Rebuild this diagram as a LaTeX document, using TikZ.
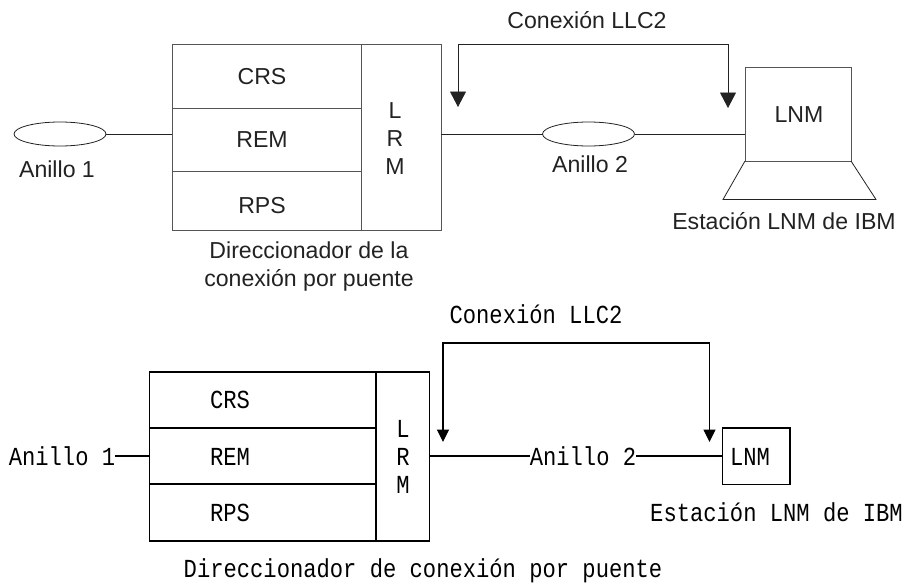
\documentclass[tikz,border=0pt]{standalone}
\usepackage{fontspec}
\setmainfont{Liberation Sans}
\newfontfamily\stationmono[FakeStretch=0.852]{Liberation Mono}
\usetikzlibrary{arrows.meta,shapes.geometric}
\definecolor{ink}{HTML}{222222}
\definecolor{upline}{HTML}{555555}
\tikzset{
  upcell/.style={draw=upline,line width=1pt,rectangle,inner sep=0pt,outer sep=0pt,anchor=north west},
  lowcell/.style={draw=black,line width=1.2pt,rectangle,inner sep=0pt,outer sep=0pt,anchor=north west},
  ring/.style={draw=ink,line width=.8pt,ellipse,inner sep=0pt,outer sep=0pt,minimum width=92pt,minimum height=24pt},
  upwire/.style={draw=ink,line width=.8pt},
  lowwire/.style={draw=black,line width=1.1pt},
  uparrow/.style={upwire,{Triangle[length=15.5pt,width=16pt]}-{Triangle[length=15.5pt,width=16pt]}},
  lowarrow/.style={lowwire,{Triangle[length=12.5pt,width=12pt]}-{Triangle[length=12.5pt,width=12pt]}},
  sanstext/.style={text=ink,inner sep=0pt,anchor=base,align=center,font=\fontsize{23.1}{27.7}\selectfont},
  monotext/.style={text=black,inner sep=0pt,anchor=base,align=center,font=\stationmono\fontsize{26}{28}\selectfont},
}
\begin{document}
\begin{tikzpicture}[x=1pt,y=-1pt]
\useasboundingbox (0,0) rectangle (905,584);
% ---------- upper diagram ----------
\node[upcell,minimum width=189pt,minimum height=64pt] (ucrs) at (172,44) {};
\node[upcell,minimum width=189pt,minimum height=63pt] (urem) at (172,108) {};
\node[upcell,minimum width=189pt,minimum height=59pt] (urps) at (172,171) {};
\node[upcell,minimum width=80pt,minimum height=186pt] (ulrm) at (361,44) {};
\node[sanstext] (tucrs) at (262,84) {CRS};
\node[sanstext] (turem) at (262,147) {REM};
\node[sanstext] (turps) at (262,213) {RPS};
\node[sanstext] (tulrm) at (395,174) {L\\R\\M};
\node[ring] (ue1) at (60,134) {};
\node[ring] (ue2) at (588.5,134) {};
\node[sanstext] (tua1) at (57,177) {Anillo 1};
\node[sanstext] (tua2) at (590,172) {Anillo 2};
\node[sanstext] (tudir) at (309,286) {Direccionador de la\\conexión por puente};
\node[sanstext] (tullc) at (587,28) {Conexión LLC2};
\node[upcell,minimum width=106pt,minimum height=94pt] (ulnm) at (745,67) {};
\node[sanstext] (tulnmt) at (799,122) {LNM};
\coordinate (ubl) at (723,199.5);
\coordinate (ubr) at (876,199.5);
\draw[upwire,line join=miter] (ulnm.south west) -- (ubl) -- (ubr) -- (ulnm.south east);
\node[sanstext] (tust) at (784,229) {Estación LNM de IBM};
\draw[upwire] (ue1.east) -- (ue1.east -| ucrs.west);
\draw[upwire] (ulrm.east |- ue2.west) -- (ue2.west);
\draw[upwire] (ue2.east) -- (ue2.east -| ulnm.west);
\coordinate (up1) at (458,107);
\coordinate (uq1) at (458,44);
\coordinate (uq2) at (728,44);
\coordinate (up2) at (728,108);
\draw[uparrow] (up1) -- (uq1) -- (uq2) -- (up2);
% ---------- lower diagram ----------
\node[lowcell,minimum width=226.5pt,minimum height=56pt] (lcrs) at (149.5,372) {};
\node[lowcell,minimum width=226.5pt,minimum height=56pt] (lrem) at (149.5,428) {};
\node[lowcell,minimum width=226.5pt,minimum height=57pt] (lrps) at (149.5,484) {};
\node[lowcell,minimum width=53.5pt,minimum height=169pt] (llrm) at (376,372) {};
\node[monotext] (tlcrs) at (230,408) {CRS};
\node[monotext] (tlrem) at (230,465) {REM};
\node[monotext] (tlrps) at (230,521) {RPS};
\node[monotext] (tllrm) at (403,493) {L\\R\\M};
\node[monotext] (la1) at (62,465) {Anillo 1};
\node[monotext] (la2) at (583,465) {Anillo 2};
\coordinate (lw) at (0,456);
\draw[lowwire] (la1.east |- lw) -- (lrem.west |- lw);
\node[lowcell,minimum width=67.5pt,minimum height=56.5pt] (llnm) at (722.5,428) {};
\node[monotext] (tllnm) at (750,465) {LNM};
\draw[lowwire] (llrm.east |- lw) -- (la2.west |- lw);
\draw[lowwire] (la2.east |- lw) -- (llnm.west |- lw);
\coordinate (lp1) at (443,442);
\coordinate (lq1) at (443,343);
\coordinate (lq2) at (709.5,343);
\coordinate (lp2) at (709.5,442);
\draw[lowarrow] (lp1) -- (lq1) -- (lq2) -- (lp2);
\node[monotext] (tlllc) at (536,323) {Conexión LLC2};
\node[monotext] (tlst) at (776.5,521) {Estación LNM de IBM};
\node[monotext] (tldir) at (423,577) {Direccionador de conexión por puente};
\end{tikzpicture}
\end{document}
